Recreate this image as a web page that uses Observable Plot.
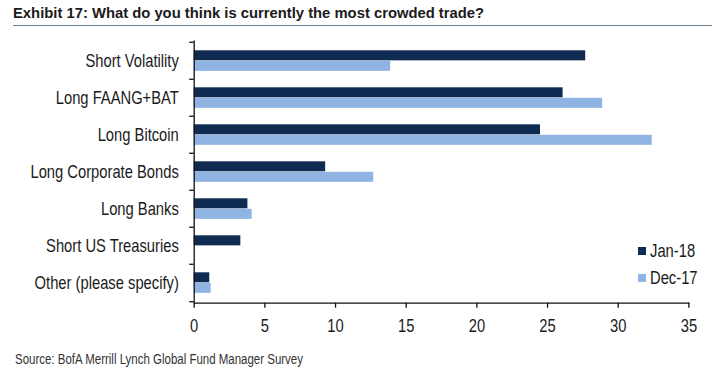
<!DOCTYPE html>
<html><head><meta charset="utf-8">
<script src="https://cdn.jsdelivr.net/npm/d3@7"></script>
<script src="https://cdn.jsdelivr.net/npm/@observablehq/plot@0.6"></script>
<style>
body{margin:0;background:#fff;font-family:"Liberation Sans",Arial,sans-serif;}
#wrap{position:relative;width:720px;height:378px;overflow:hidden;background:#fff;}
#title{position:absolute;left:13px;top:5.5px;font-weight:bold;font-size:14.8px;line-height:1;color:#1b1b1b;white-space:nowrap;}
#rule{position:absolute;left:13px;top:24.5px;width:699px;height:1.4px;background:#6f7f8f;}
#chart{position:absolute;left:0;top:30px;}
#legend{position:absolute;left:637.5px;top:237.5px;font-size:18px;color:#1b1b1b;}
.row{height:27px;display:flex;align-items:center;white-space:nowrap;}
.sw{width:8.5px;height:8px;margin-right:4px;flex:none;}
.nar{display:inline-block;transform:scaleX(0.82);transform-origin:0 50%;}
#caption{position:absolute;left:15px;top:352px;font-size:14px;line-height:1;color:#333;white-space:nowrap;}
</style></head>
<body>
<div id="wrap">
  <div id="title">Exhibit 17: What do you think is currently the most crowded trade?</div>
  <div id="rule"></div>
  <div id="chart"></div>
  <div id="legend"></div>
  <div id="caption"><span class="nar">Source: BofA Merrill Lynch Global Fund Manager Survey</span></div>
</div>
<script>
const categories = ["Short Volatility","Long FAANG+BAT","Long Bitcoin","Long Corporate Bonds","Long Banks","Short US Treasuries","Other (please specify)"];
const jan18 = [27.7, 26.1, 24.5, 9.3, 3.8, 3.3, 1.1];
const dec17 = [13.9, 28.9, 32.4, 12.7, 4.1, null, 1.2];
const seriesNames = ["Jan-18","Dec-17"];
const seriesColors = ["#0f2b52","#8fb4e3"];
const xTicks = [0,5,10,15,20,25,30,35];

const janRows = categories.map((c,i)=>({cat:c, value:jan18[i]})).filter(d=>d.value!=null);
const decRows = categories.map((c,i)=>({cat:c, value:dec17[i]})).filter(d=>d.value!=null);

const H = 310, mT = 10.5, mB = 37.3;
const step = (H - mT - mB) / categories.length;
const font = '"Liberation Sans",Arial,sans-serif';

const chart = Plot.plot({
  width: 720, height: H,
  marginTop: mT, marginBottom: mB, marginLeft: 193.7, marginRight: 31.6,
  style: {fontFamily: font, fontSize: "18px", color: "#1b1b1b", background: "transparent"},
  x: {domain: [0, 35], ticks: xTicks},
  y: {domain: categories, padding: 0},
  marks: [
    Plot.barX(janRows, {x: "value", y: "cat", fill: seriesColors[0], insetTop: 8.3, insetBottom: step - 18.8}),
    Plot.barX(decRows, {x: "value", y: "cat", fill: seriesColors[1], insetTop: 18.8, insetBottom: step - 29.3}),
    Plot.ruleX([0], {stroke: "#111", strokeWidth: 1.3}),
    Plot.frame({anchor: "bottom", stroke: "#111", strokeWidth: 1.3}),
    Plot.ruleY(categories, {y: d => d, x1: 0, x2: 0, insetLeft: -4.5, dy: -step/2, stroke: "#111", strokeWidth: 1.3}),
    Plot.ruleY([categories[categories.length-1]], {y: d => d, x1: 0, x2: 0, insetLeft: -4.5, dy: step/2, stroke: "#111", strokeWidth: 1.3}),
    Plot.axisX({ticks: xTicks, tickSize: 5, tickPadding: 11, fontSize: 18, label: null, stroke: "#111", strokeWidth: 1.3}),
    Plot.axisY({tickSize: 0, tickPadding: 15.4, fontSize: 18, label: null})
  ]
});
// emulate a narrow face: compress axis label text horizontally around its anchor
chart.querySelectorAll("g[aria-label$='tick label'] text").forEach(t => {
  const tr = t.getAttribute("transform") || "";
  t.setAttribute("transform", tr + " scale(0.82,1)");
});
document.getElementById("chart").appendChild(chart);

const legend = document.getElementById("legend");
seriesNames.forEach((name, i) => {
  const row = document.createElement("div");
  row.className = "row";
  const sw = document.createElement("div");
  sw.className = "sw";
  sw.style.background = seriesColors[i];
  const t = document.createElement("span");
  t.className = "nar";
  t.textContent = name;
  row.appendChild(sw); row.appendChild(t);
  legend.appendChild(row);
});
</script>
</body></html>
